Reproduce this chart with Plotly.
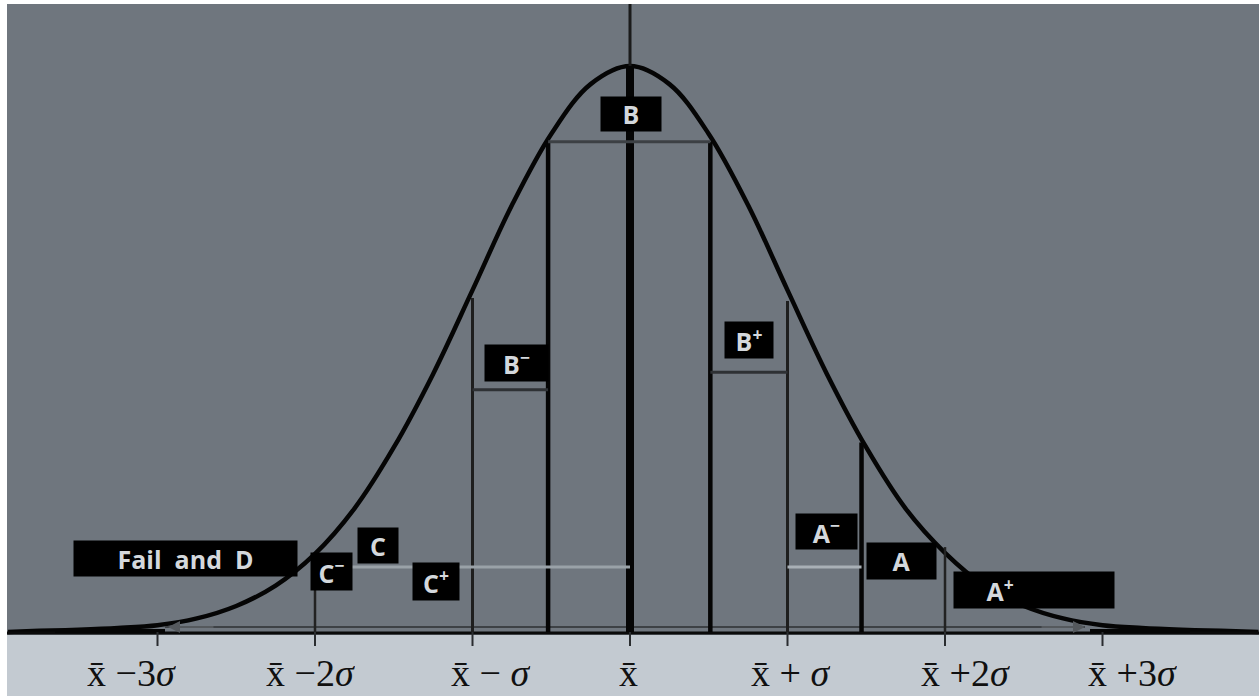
import plotly.graph_objects as go

# bell curve (x in sigma units, height relative to the peak)
curve_z = [-3.95, -3.75, -3.5, -3.25, -3.0, -2.75, -2.5, -2.25, -2.0, -1.75, -1.5, -1.25, -1.0,
           -0.75, -0.5, -0.25, 0.0, 0.25, 0.5, 0.75, 1.0, 1.25, 1.5, 1.75, 2.0, 2.25, 2.5,
           2.75, 3.0, 3.25, 3.5, 3.75, 3.99]
curve_h = [0.0, 0.002, 0.004, 0.007, 0.012, 0.024, 0.046, 0.082, 0.138, 0.218, 0.326, 0.456,
           0.604, 0.754, 0.880, 0.968, 1.0, 0.968, 0.880, 0.754, 0.604, 0.456, 0.326, 0.218,
           0.14, 0.082, 0.046, 0.024, 0.012, 0.007, 0.004, 0.002, 0.0]

# vertical grade boundaries: position, top height, width, colour
cut_z = [-2.0, -1.0, -0.52, 0.0, 0.51, 1.0, 1.47, 2.0]
cut_top = [0.136, 0.590, 0.866, 1.0, 0.866, 0.585, 0.335, 0.150]
cut_w = [2.5, 3, 4.5, 8, 4.5, 3, 4.5, 2.5]
cut_col = ["#222", "#1e1e1e", "#050505", "#050505", "#050505", "#1e1e1e", "#050505", "#222"]

# horizontal grade boundaries: from, to, height, colour
hcut_from = [-0.52, -1.0, 0.51, 1.0, -1.8]
hcut_to = [0.51, -0.52, 1.0, 1.47, 0.0]
hcut_h = [0.866, 0.428, 0.459, 0.115, 0.115]
hcut_col = ["#3c4044", "#2e3134", "#2e3134", "#a9b0b6", "#9aa2a8"]

# grade labels
nb = "\u00a0"
grades = ["B", "B<sup>−</sup>", "B<sup>+</sup>", "Fail" + nb * 2 + "and" + nb * 2 + "D", "C",
          "C<sup>−</sup>", "C<sup>+</sup>", "A<sup>−</sup>", "A", nb * 5 + "A<sup>+</sup>"]
grade_px = [(631, 114), (516, 363), (749, 340), (185, 558), (378, 545), (331, 571),
            (436, 581), (826, 531), (901, 561), (1034, 590)]
grade_box = [(60, 34), (63, 36), (48, 36), (223, 35), (40, 35), (41, 37),
             (46, 37), (61, 35), (69, 36), (160, 36)]

tick_z = [-3, -2, -1, 0, 1, 2, 3]
tick_text = ["x̄" + nb + "−3<i>σ</i>", "x̄" + nb + "−2<i>σ</i>",
             "x̄" + nb + "−" + nb + "<i>σ</i>", "x̄",
             "x̄" + nb + "+" + nb + "<i>σ</i>", "x̄" + nb + "+2<i>σ</i>",
             "x̄" + nb + "+3<i>σ</i>"]
tick_label_px = [131, 310, 490, 628, 790, 965, 1132]

# pixel <-> data helpers (x-bar at 630 px, sigma = 157.5 px, base at 632 px, peak at 66 px)
def dx(px):
    return (px - 630) / 157.5

def dy(py):
    return (632 - py) / 566

fig = go.Figure()

shapes = []
# light band under the axis
shapes.append(dict(type="rect", xref="paper", yref="y", x0=0, x1=1, y0=-0.2, y1=dy(635),
                   fillcolor="#c3cad1", line_width=0, layer="below"))
# baseline
shapes.append(dict(type="line", xref="paper", yref="y", x0=0, x1=1, y0=dy(633), y1=dy(633),
                   line=dict(color="#0a0a0a", width=3)))
# gray axis line just above baseline
shapes.append(dict(type="line", x0=dx(165), x1=dx(1085), y0=dy(627), y1=dy(627),
                   line=dict(color="#3d4145", width=2)))
# thin axis line above the peak
shapes.append(dict(type="line", x0=0, x1=0, y0=dy(66), y1=dy(0),
                   line=dict(color="#1a1a1a", width=3)))
# thick tails on baseline
shapes.append(dict(type="line", x0=dx(55), x1=dx(165), y0=dy(631), y1=dy(631),
                   line=dict(color="#050505", width=4)))
shapes.append(dict(type="line", x0=dx(1090), x1=dx(1190), y0=dy(631), y1=dy(631),
                   line=dict(color="#050505", width=4)))

for z, top, w, c in zip(cut_z, cut_top, cut_w, cut_col):
    shapes.append(dict(type="line", x0=z, x1=z, y0=0, y1=top, line=dict(color=c, width=w)))
for a, b, h, c in zip(hcut_from, hcut_to, hcut_h, hcut_col):
    shapes.append(dict(type="line", x0=a, x1=b, y0=h, y1=h, line=dict(color=c, width=3)))
for z in tick_z:
    shapes.append(dict(type="line", x0=z, x1=z, y0=0, y1=dy(646),
                       line=dict(color="#2a2d30", width=2)))

fig.add_trace(go.Scatter(x=curve_z, y=curve_h, mode="lines", line_shape="spline",
                         line=dict(color="#050505", width=4.5), hoverinfo="skip"))

ann = []
for t, (px, py), (bw, bh) in zip(grades, grade_px, grade_box):
    ann.append(dict(x=dx(px), y=dy(py), text=t, showarrow=False, bgcolor="#000000",
                    width=bw, height=bh, borderpad=0,
                    align="left" if t.endswith("A<sup>+</sup>") else "center",
                    font=dict(family="Open Sans", size=25, weight="bold", color="#d4d8dc")))
for t, px in zip(tick_text, tick_label_px):
    ann.append(dict(x=dx(px), y=dy(673), text=t, showarrow=False, height=44,
                    font=dict(family="Liberation Serif", size=38, color="#101010")))
# arrow heads on the axis
ann.append(dict(x=dx(168), y=dy(627), ax=dx(215), ay=dy(627), xref="x", yref="y", axref="x",
                ayref="y", showarrow=True, arrowhead=2, arrowsize=1.2, arrowwidth=2,
                arrowcolor="#55595d", text=""))
ann.append(dict(x=dx(1085), y=dy(627), ax=dx(1040), ay=dy(627), xref="x", yref="y", axref="x",
                ayref="y", showarrow=True, arrowhead=2, arrowsize=1.2, arrowwidth=2,
                arrowcolor="#55595d", text=""))

fig.update_layout(
    width=1259, height=696,
    margin=dict(l=7, r=0, t=4, b=0),
    paper_bgcolor="white", plot_bgcolor="#6f767e",
    showlegend=False,
    shapes=shapes, annotations=ann,
    xaxis=dict(range=[dx(7), dx(1259)], visible=False, fixedrange=True),
    yaxis=dict(range=[dy(696), dy(4)], visible=False, fixedrange=True),
)

# page body has an 8px default margin; drop it so the figure fills the window
fig.write_html("out.html", config={"displayModeBar": False},
               post_script="document.body.style.margin='0';")
